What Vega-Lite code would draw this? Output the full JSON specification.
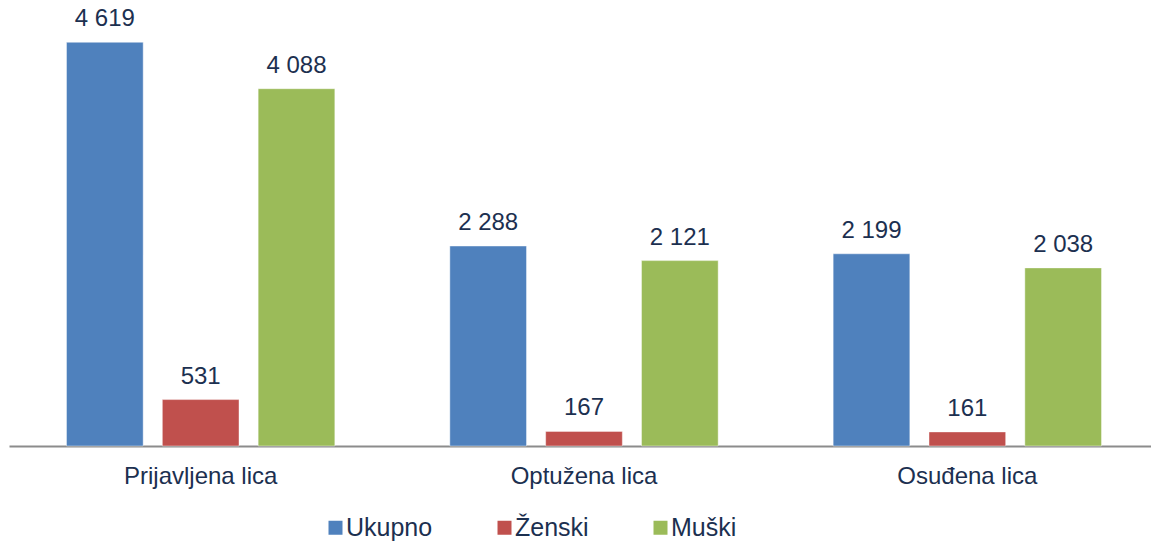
{
  "$schema": "https://vega.github.io/schema/vega-lite/v6.json",
  "width": 1142,
  "height": 437,
  "autosize": "none",
  "padding": {"left": 9, "top": 9, "right": 0, "bottom": 95},
  "config": {
    "view": {"stroke": null},
    "font": "Liberation Sans",
    "locale": {"number": {"decimal": ",", "thousands": " ", "grouping": [3], "currency": ["", ""]}}
  },
  "data": {
    "values": [
      {"kategorija": "Prijavljena lica", "pol": "Ukupno", "broj": 4619},
      {"kategorija": "Prijavljena lica", "pol": "Ženski", "broj": 531},
      {"kategorija": "Prijavljena lica", "pol": "Muški", "broj": 4088},
      {"kategorija": "Optužena lica", "pol": "Ukupno", "broj": 2288},
      {"kategorija": "Optužena lica", "pol": "Ženski", "broj": 167},
      {"kategorija": "Optužena lica", "pol": "Muški", "broj": 2121},
      {"kategorija": "Osuđena lica", "pol": "Ukupno", "broj": 2199},
      {"kategorija": "Osuđena lica", "pol": "Ženski", "broj": 161},
      {"kategorija": "Osuđena lica", "pol": "Muški", "broj": 2038}
    ]
  },
  "encoding": {
    "x": {
      "field": "kategorija",
      "type": "nominal",
      "sort": ["Prijavljena lica", "Optužena lica", "Osuđena lica"],
      "scale": {"paddingInner": 0, "paddingOuter": 0, "range": [0, 1150]},
      "axis": {
        "title": null,
        "labelAngle": 0,
        "ticks": false,
        "domainColor": "#8c8c8c",
        "domainWidth": 2,
        "labelFontSize": 24,
        "labelColor": "#1c3050",
        "labelPadding": 18,
        "labelFont": "Liberation Sans"
      }
    },
    "xOffset": {
      "field": "pol",
      "type": "nominal",
      "sort": ["Ukupno", "Ženski", "Muški"],
      "scale": {"paddingInner": 0.2, "paddingOuter": 0.6}
    },
    "y": {
      "field": "broj",
      "type": "quantitative",
      "scale": {"domain": [0, 5000], "nice": false},
      "axis": null
    }
  },
  "layer": [
    {
      "mark": {"type": "bar", "stroke": "white", "strokeWidth": 0.7, "strokeOpacity": 0.6},
      "encoding": {
        "color": {
          "field": "pol",
          "type": "nominal",
          "sort": ["Ukupno", "Ženski", "Muški"],
          "scale": {"domain": ["Ukupno", "Ženski", "Muški"], "range": ["#4f81bd", "#c0504d", "#9bbb59"]},
          "legend": {
            "title": null,
            "orient": "none",
            "direction": "horizontal",
            "legendX": 314,
            "legendY": 506,
            "symbolType": "square",
            "symbolSize": 196,
            "symbolStrokeWidth": 0,
            "labelFontSize": 25,
            "labelColor": "#1c3050",
            "labelFont": "Liberation Sans",
            "labelOffset": -2,
            "columnPadding": 59,
            "padding": 0
          }
        }
      }
    },
    {
      "mark": {"type": "text", "baseline": "alphabetic", "dy": -16, "fontSize": 24, "color": "#1c3050", "font": "Liberation Sans"},
      "encoding": {
        "text": {"field": "broj", "type": "quantitative", "format": ",d"}
      }
    }
  ]
}
